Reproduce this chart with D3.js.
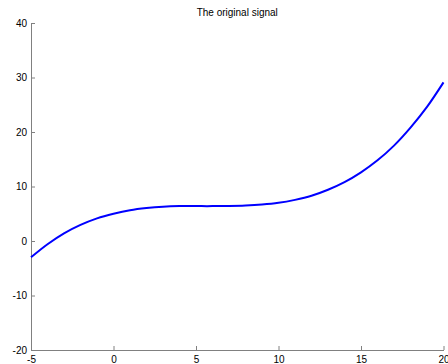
<!DOCTYPE html>
<html>
<head>
<meta charset="utf-8">
<script src="https://cdn.jsdelivr.net/npm/d3@7"></script>
<style>
  html, body { margin: 0; padding: 0; background: #fff; }
  svg { display: block; }
  text { font-family: "Liberation Sans", Arial, sans-serif; }
</style>
</head>
<body>
<script>
// Signal samples
const xValues = [-5, -4, -3, -2, -1, 0, 1, 2, 3, 4, 5, 6, 7, 8, 9, 10, 11, 12, 13, 14, 15, 16, 17, 18, 19, 20];
const yValues = [-3.0, -0.6, 1.4, 2.95, 4.15, 5.0, 5.65, 6.05, 6.3, 6.4, 6.4, 6.4, 6.42, 6.5, 6.68, 7.0, 7.55, 8.3, 9.4, 10.8, 12.6, 14.8, 17.5, 20.8, 24.6, 29.1];
const xTicks = [-5, 0, 5, 10, 15, 20];
const yTicks = [-20, -10, 0, 10, 20, 30, 40];
const title = "The original signal";

const W = 448, H = 364;
const plotLeft = 31, plotRight = 443.5, plotTop = 23, plotBottom = 350;

const svg = d3.select("body").append("svg")
  .attr("width", W).attr("height", H);

const x = d3.scaleLinear().domain([-5, 20]).range([plotLeft, plotRight]);
const y = d3.scaleLinear().domain([-20, 40]).range([plotBottom, plotTop]);

const axisColor = "#808080";
const plainNumber = d => String(d);

// Bottom axis with inward ticks
const xAxis = svg.append("g")
  .attr("transform", `translate(0,${plotBottom})`)
  .call(d3.axisBottom(x).tickValues(xTicks).tickSizeInner(-4).tickSizeOuter(0).tickPadding(6).tickFormat(plainNumber));

// Left axis with inward ticks
const yAxis = svg.append("g")
  .attr("transform", `translate(${plotLeft},0)`)
  .call(d3.axisLeft(y).tickValues(yTicks).tickSizeInner(-4).tickSizeOuter(0).tickPadding(4).tickFormat(plainNumber));

[xAxis, yAxis].forEach(g => {
  g.select(".domain").attr("stroke", axisColor).attr("stroke-width", 1);
  g.selectAll(".tick line").attr("stroke", axisColor);
  g.selectAll(".tick text").attr("fill", "#000").attr("font-size", 10)
    .attr("font-family", "'Liberation Sans', Arial, sans-serif");
});

// Signal curve
const line = d3.line()
  .x((d, i) => x(xValues[i]))
  .y(d => y(d))
  .curve(d3.curveCatmullRom);

svg.append("path")
  .datum(yValues)
  .attr("fill", "none")
  .attr("stroke", "#0000ff")
  .attr("stroke-width", 2)
  .attr("d", line);

// Title
svg.append("text")
  .attr("x", (plotLeft + plotRight) / 2)
  .attr("y", 16)
  .attr("text-anchor", "middle")
  .attr("font-size", 10)
  .attr("fill", "#000")
  .text(title);
</script>
</body>
</html>
